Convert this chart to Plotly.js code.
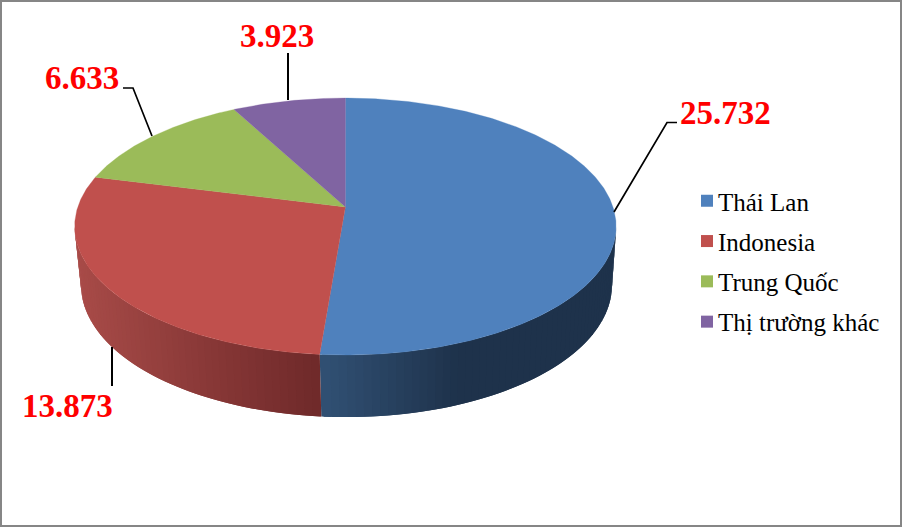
<!DOCTYPE html>
<html><head><meta charset="utf-8">
<script src="https://cdn.plot.ly/plotly-3.0.1.min.js"></script>
<style>html,body{margin:0;padding:0;background:#fff}#c{width:902px;height:527px}</style>
</head><body><div id="c"></div>
<script>
const categories = ["Thái Lan", "Indonesia", "Trung Quốc", "Thị trường khác"];
const values = [25.732, 13.873, 6.633, 3.923];
const colors = ["#4f81bd", "#c0504d", "#9bbb59", "#8064a2"];

// perspective disc parameters (axes are in picture pixels)
const K = 0.152;
const TOP = {cx: 345.4, cy: 207, a: 267.6, b: 125.5};
const BOT = {cx: 346.5, cy: 265, a: 262.4, b: 129};
function pt(d, deg) {
  const r = deg * Math.PI / 180, u = Math.sin(r), v = -Math.cos(r), w = 1 - K * v;
  return [d.cx + d.a * u / w, d.cy + d.b * v / w];
}
const total = values.reduce((s, v) => s + v, 0);
const bounds = [0];
values.forEach(v => bounds.push(bounds[bounds.length - 1] + v / total * 360));

function mix(c1, c2, f) {
  f = Math.max(0, Math.min(1, f));
  return "rgb(" + c1.map((c, i) => Math.round(c + (c2[i] - c) * f)).join(",") + ")";
}
function wallColor(x, deg) {
  if (deg < bounds[1]) return mix([30, 50, 75], [48, 79, 114], (450 - x) / 130);
  return mix([168, 75, 72], [112, 42, 42], (x - 78) / 242);
}

const traces = [];
// side wall, from the silhouette tangents towards the slice boundary; each strip overlaps the previous one
const STEP = 1.5;
const TANGENT = Math.acos(-K) * 180 / Math.PI;
function strip(tCol0, tCol1, t0, t1) {
  const a = pt(TOP, t0), b = pt(TOP, t1), c = pt(BOT, t1), d = pt(BOT, t0);
  const mid = (tCol0 + tCol1) / 2;
  const col = wallColor(pt(TOP, mid)[0], mid);
  traces.push({x: [a[0], b[0], c[0], d[0], a[0]], y: [a[1], b[1], c[1], d[1], a[1]],
    mode: "none", fill: "toself", fillcolor: col, hoverinfo: "skip", showlegend: false});
}
for (let t = TANGENT; t < bounds[1] - 0.001; t += STEP) {
  const e = Math.min(t + STEP, bounds[1]);
  strip(t, e, Math.max(t - STEP, TANGENT), e);
}
for (let t = 360 - TANGENT; t > bounds[1] + 0.001; t -= STEP) {
  const e = Math.max(t - STEP, bounds[1]);
  strip(e, t, e, Math.min(t + STEP, 360 - TANGENT));
}

// top faces
values.forEach((v, i) => {
  const xs = [TOP.cx], ys = [TOP.cy];
  const n = Math.ceil(bounds[i + 1] - bounds[i]) * 2;
  for (let j = 0; j <= n; j++) {
    const p = pt(TOP, bounds[i] + (bounds[i + 1] - bounds[i]) * j / n);
    xs.push(p[0]); ys.push(p[1]);
  }
  xs.push(TOP.cx); ys.push(TOP.cy);
  traces.push({x: xs, y: ys, mode: "lines", fill: "toself", fillcolor: colors[i],
    line: {color: colors[i], width: 0.3}, hoverinfo: "skip", showlegend: false});
});

// leader lines
const leaderX = [[614, 667, 677], [112, 112], [152, 133, 123], [288, 288]];
const leaderY = [[212, 122.5, 122.5], [347, 386], [136, 88, 88], [100, 53]];
const leaderW = [1.7, 2, 1.7, 2];
leaderX.forEach((lx, i) => traces.push({x: lx, y: leaderY[i], mode: "lines",
  line: {color: "#000", width: leaderW[i]}, hoverinfo: "skip", showlegend: false}));

// legend entries
categories.forEach((c, i) => traces.push({x: [null], y: [null], name: c, mode: "markers",
  legendgroup: "g" + i, marker: {symbol: "square", size: 12, color: colors[i]}, hoverinfo: "skip"}));

const labelX = [725.5, 67, 81.5, 277];
const labelY = [113, 406, 78, 35.5];
const annotations = values.map((v, i) => ({x: labelX[i], y: labelY[i], text: "<b>" + v.toFixed(3) + "</b>",
  showarrow: false, xanchor: "center", yanchor: "middle",
  font: {family: "Liberation Serif", size: 33, color: "#ff0000"}}));

const layout = {
  width: 902, height: 527, margin: {l: 0, r: 0, t: 0, b: 0},
  paper_bgcolor: "#fff", plot_bgcolor: "#fff",
  xaxis: {range: [0, 902], visible: false, fixedrange: true},
  yaxis: {range: [527, 0], visible: false, fixedrange: true},
  annotations,
  shapes: [{type: "rect", xref: "x", yref: "y", x0: 1, y0: 1, x1: 901, y1: 526,
    line: {color: "#868686", width: 2}}],
  legend: {x: 678 / 902, y: 1 - 178 / 527, xanchor: "left", yanchor: "top",
    bgcolor: "rgba(0,0,0,0)", tracegroupgap: 4.8,
    font: {family: "Liberation Serif", size: 25, color: "#000"}},
  hovermode: false
};
Plotly.newPlot("c", traces, layout, {displayModeBar: false, staticPlot: true}).then(() => {
  document.querySelectorAll(".legend .legendsymbols").forEach(g => g.setAttribute("transform", "translate(9,0)"));
});
</script></body></html>
